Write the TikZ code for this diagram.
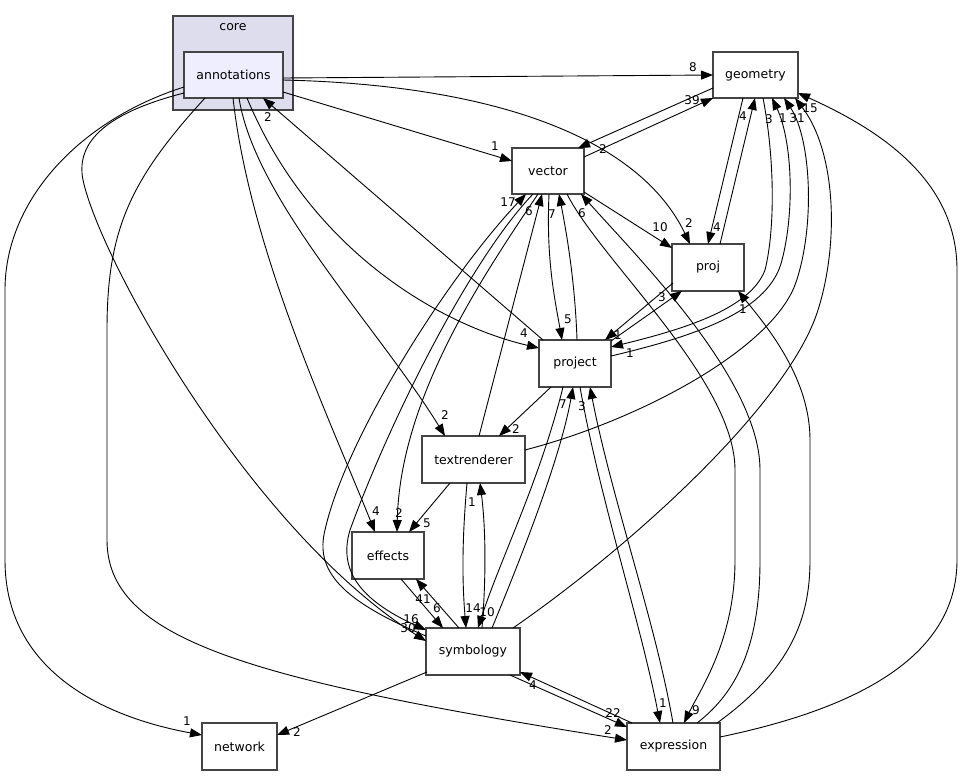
\documentclass[tikz,border=0pt]{standalone}
\usepackage{fontspec}
\setmainfont{DejaVu Sans}
\usetikzlibrary{arrows.meta,calc}
\definecolor{dgray}{HTML}{444444}
\definecolor{clfill}{HTML}{DDDDEE}
\definecolor{annfill}{HTML}{EEEEFF}
\newcommand\dnfont{\fontsize{12.5}{14}\selectfont}
\newcommand\dlfont{\fontsize{12}{13}\selectfont}
\tikzset{
  dnode/.style={draw=dgray, line width=1.2pt, fill=white, inner sep=0pt, font=\dnfont},
  dep/.style={draw=black, line width=0.9pt, -{Triangle[length=12pt,width=9pt]}},
  elab/.style={font=\dlfont, inner sep=0pt}
}
\begin{document}
\begin{tikzpicture}[x=1pt,y=-1pt]
\fill[white] (0,0) rectangle (963,777);
\useasboundingbox (0,0) rectangle (963,777);
% cluster
\node[dnode, fill=clfill, minimum width=120pt, minimum height=94pt] (core) at (233,63) {};
\node[font=\dnfont, inner sep=0pt] (corelbl) at (233,27) {core};
% nodes
\node[dnode, fill=annfill, minimum width=99pt, minimum height=46pt] (ann) at (233.5,75) {annotations};
\node[dnode, minimum width=85pt, minimum height=46pt] (geom) at (755.5,75) {geometry};
\node[dnode, minimum width=72pt, minimum height=46pt] (vec) at (548,171) {vector};
\node[dnode, minimum width=72pt, minimum height=47pt] (proj) at (708,267.5) {proj};
\node[dnode, minimum width=72pt, minimum height=47pt] (prj) at (575,363.5) {project};
\node[dnode, minimum width=103pt, minimum height=47pt] (textr) at (473.5,459.5) {textrenderer};
\node[dnode, minimum width=72pt, minimum height=47pt] (eff) at (388,555.5) {effects};
\node[dnode, minimum width=94pt, minimum height=47pt] (symb) at (473,651.5) {symbology};
\node[dnode, minimum width=75pt, minimum height=47pt] (net) at (239.5,746.5) {network};
\node[dnode, minimum width=93pt, minimum height=47pt] (expr) at (673.5,746.5) {expression};

% edges from annotations
\draw[dep] ($(ann)+(49.5,3)$) -- ($(geom)+(-42.5,0)$);
\draw[dep] ($(ann)+(49.5,17)$) -- ($(vec)+(-36,-10)$);
\draw[dep] ($(ann)+(49.5,5)$) .. controls (500,85) and (640,140) .. ($(proj)+(-18,-23.5)$);
\draw[dep] ($(ann)+(13.5,23)$) .. controls (310,250) and (440,325) .. ($(prj)+(-36,-15.5)$);
\draw[dep] ($(ann)+(5.5,23)$) .. controls (255,200) and (380,330) .. ($(textr)+(-28.5,-23.5)$);
\draw[dep] ($(ann)+(-0.5,23)$) .. controls (250,250) and (330,420) .. ($(eff)+(-13,-23.5)$);
\draw[dep] ($(prj)+(-32,-23.5)$) -- ($(ann)+(29.5,23)$);
\draw[dep] ($(ann)+(-28.5,23)$) .. controls (130,180) and (107,230) .. (107,330) -- (107,540) .. controls (107,640) and (250,680) .. ($(expr)+(-46.5,-6.5)$);
\draw[dep] ($(ann)+(-49.5,12)$) .. controls (80,120) and (5,200) .. (5,290) -- (5,560) .. controls (5,680) and (120,720) .. ($(net)+(-37.5,-11.5)$);
\draw[dep] ($(ann)+(-49.5,18)$) .. controls (110,112) and (75,140) .. (83,180) .. controls (100,260) and (250,530) .. ($(symb)+(-47,-10.5)$);

% vector related
\draw[dep] ($(symb)+(-47,-15.5)$) .. controls (340,600) and (315,570) .. (325,530) .. controls (345,440) and (445,280) .. ($(vec)+(-22,23)$);
\draw[dep] ($(vec)+(-15,23)$) .. controls (470,260) and (390,420) .. (350,530) .. controls (338,570) and (360,600) .. ($(symb)+(-47,-21.5)$);
\draw[dep] ($(vec)+(-10,23)$) .. controls (480,280) and (400,400) .. ($(eff)+(9,-23.5)$);
\draw[dep] ($(textr)+(5.5,-23.5)$) -- ($(vec)+(-6,23)$);
\draw[dep] ($(vec)+(1,23)$) .. controls (546,260) and (555,300) .. ($(prj)+(-13,-23.5)$);
\draw[dep] ($(prj)+(2,-23.5)$) .. controls (575,280) and (566,230) .. ($(vec)+(11,23)$);
\draw[dep] ($(vec)+(19,23)$) .. controls (600,260) and (735,380) .. (735,470) -- (735,560) .. controls (735,640) and (700,690) .. ($(expr)+(10.5,-23.5)$);
\draw[dep] ($(expr)+(23.5,-23.5)$) .. controls (740,690) and (760,640) .. (760,560) -- (760,470) .. controls (760,380) and (640,260) .. ($(vec)+(33,23)$);
\draw[dep] ($(vec)+(36,21)$) -- ($(proj)+(-36,-19.5)$);
\draw[dep] ($(vec)+(36,-14)$) -- ($(geom)+(-42.5,23)$);
\draw[dep] ($(geom)+(-42.5,13)$) -- ($(vec)+(30,-23)$);

% geometry / proj / project
\draw[dep] ($(geom)+(-12.5,23)$) -- ($(proj)+(0,-23.5)$);
\draw[dep] ($(proj)+(12,-23.5)$) -- ($(geom)+(-0.5,23)$);
\draw[dep] ($(geom)+(7.5,23)$) .. controls (775,160) and (775,230) .. (765,270) .. controls (750,310) and (680,330) .. ($(prj)+(36,-16.5)$);
\draw[dep] ($(prj)+(36,-7.5)$) .. controls (700,335) and (770,310) .. (782,260) .. controls (795,210) and (792,140) .. ($(geom)+(16.5,23)$);
\draw[dep] ($(textr)+(51.5,-9.5)$) .. controls (640,420) and (770,350) .. (795,285) .. controls (815,230) and (812,140) .. ($(geom)+(28.5,23)$);
\draw[dep] ($(symb)+(40,-23.5)$) .. controls (640,540) and (790,400) .. (818,310) .. controls (840,240) and (835,150) .. ($(geom)+(39.5,23)$);
\draw[dep] ($(expr)+(46.5,-9.5)$) .. controls (850,710) and (957,660) .. (957,560) -- (957,270) .. controls (957,180) and (880,130) .. ($(geom)+(42.5,18)$);
\draw[dep] ($(expr)+(43.5,-23.5)$) .. controls (790,670) and (810,620) .. (810,560) -- (810,440) .. controls (810,380) and (770,330) .. ($(proj)+(30,23.5)$);
\draw[dep] ($(proj)+(-35,15.5)$) -- ($(prj)+(30,-23.5)$);
\draw[dep] ($(prj)+(36,-22.5)$) -- ($(proj)+(-26,23.5)$);

% project / expression / symbology / textrenderer
\draw[dep] ($(prj)+(5,23.5)$) .. controls (600,500) and (640,620) .. ($(expr)+(-13.5,-23.5)$);
\draw[dep] ($(expr)+(-0.5,-23.5)$) .. controls (655,620) and (612,500) .. ($(prj)+(15,23.5)$);
\draw[dep] ($(prj)+(-12,23.5)$) .. controls (540,480) and (500,560) .. ($(symb)+(5,-23.5)$);
\draw[dep] ($(symb)+(19,-23.5)$) .. controls (520,560) and (560,460) .. ($(prj)+(-2,23.5)$);
\draw[dep] ($(textr)+(-6.5,23.5)$) .. controls (462,540) and (462,580) .. ($(symb)+(-7,-23.5)$);
\draw[dep] ($(symb)+(9,-23.5)$) .. controls (486,580) and (486,530) .. ($(textr)+(6.5,23.5)$);
\draw[dep] ($(eff)+(13,23.5)$) -- ($(symb)+(-30,-23.5)$);
\draw[dep] ($(symb)+(-14,-23.5)$) -- ($(eff)+(28,23.5)$);
\draw[dep] ($(textr)+(-23.5,23.5)$) -- ($(eff)+(21,-23.5)$);
\draw[dep] ($(prj)+(-24,23.5)$) -- ($(textr)+(25.5,-23.5)$);
\draw[dep] ($(symb)+(-46,20.5)$) -- ($(net)+(37.5,-11.5)$);
\draw[dep] ($(symb)+(37,23.5)$) -- ($(expr)+(-46.5,-19.5)$);
\draw[dep] ($(expr)+(-41.5,-23.5)$) -- ($(symb)+(47,20.5)$);

% edge labels
\node[elab] (l01) at (693,67) {8};
\node[elab] (l02) at (495,146) {1};
\node[elab] (l03) at (692,100) {39};
\node[elab] (l04) at (603,149) {2};
\node[elab] (l05) at (268,117) {2};
\node[elab] (l06) at (743,116) {4};
\node[elab] (l07) at (769,119) {3};
\node[elab] (l08) at (783,118) {1};
\node[elab] (l09) at (797,118) {31};
\node[elab] (l10) at (810,108) {15};
\node[elab] (l11) at (508,202) {17};
\node[elab] (l12) at (529,211) {6};
\node[elab] (l13) at (552,214) {7};
\node[elab] (l14) at (582,213) {6};
\node[elab] (l15) at (660,227) {10};
\node[elab] (l16) at (689,223) {2};
\node[elab] (l17) at (717,227) {4};
\node[elab] (l18) at (662,297) {3};
\node[elab] (l19) at (743,309) {1};
\node[elab] (l20) at (568,319) {5};
\node[elab] (l21) at (524,333) {4};
\node[elab] (l22) at (618,335) {1};
\node[elab] (l23) at (630,353) {1};
\node[elab] (l24) at (563,404) {7};
\node[elab] (l25) at (582,406) {3};
\node[elab] (l26) at (445,415) {2};
\node[elab] (l27) at (516,429) {2};
\node[elab] (l28) at (472,502) {1};
\node[elab] (l29) at (376,511) {4};
\node[elab] (l30) at (399,513) {2};
\node[elab] (l31) at (427,523) {5};
\node[elab] (l32) at (423,599) {41};
\node[elab] (l33) at (437,608) {6};
\node[elab] (l34) at (473,608) {14};
\node[elab] (l35) at (487,612) {10};
\node[elab] (l36) at (411,619) {16};
\node[elab] (l37) at (408,628) {30};
\node[elab] (l38) at (533,685) {4};
\node[elab] (l39) at (613,713) {22};
\node[elab] (l40) at (663,703) {1};
\node[elab] (l41) at (696,710) {9};
\node[elab] (l42) at (608,730) {2};
\node[elab] (l43) at (187,721) {1};
\node[elab] (l44) at (297,732) {2};
\end{tikzpicture}
\end{document}
